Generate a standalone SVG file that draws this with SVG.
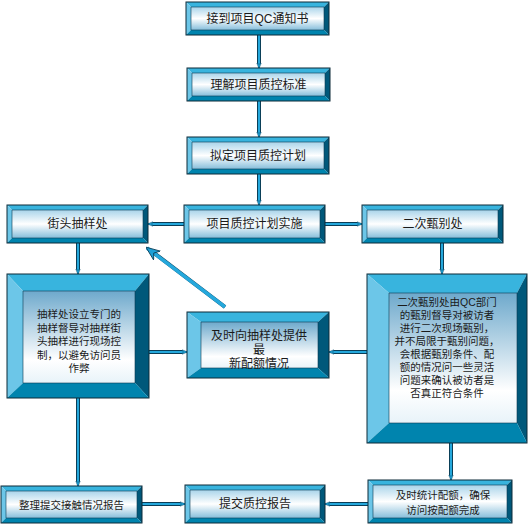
<svg xmlns="http://www.w3.org/2000/svg" width="530" height="525" viewBox="0 0 530 525">
<defs>
<linearGradient id="gs" x1="0" y1="0" x2="0" y2="1">
<stop offset="0" stop-color="#a9d4ea"/>
<stop offset="0.5" stop-color="#ffffff"/>
<stop offset="1" stop-color="#86bedb"/>
</linearGradient>
<linearGradient id="gb" x1="0" y1="0" x2="0" y2="1">
<stop offset="0" stop-color="#6ea9cc"/>
<stop offset="0.75" stop-color="#ffffff"/>
<stop offset="1" stop-color="#e8f3f9"/>
</linearGradient>
<marker id="ah" viewBox="0 0 10 10" refX="9" refY="5" markerWidth="3" markerHeight="3" orient="auto" markerUnits="strokeWidth">
<path d="M0,1 L10,5 L0,9 L3,5 Z" fill="#1ea0d6" stroke="#0a3f58" stroke-width="0.8"/>
</marker>
<marker id="ahb" viewBox="0 0 10 10" refX="9" refY="5" markerWidth="4" markerHeight="4" orient="auto" markerUnits="strokeWidth">
<path d="M0,1 L10,5 L0,9 L3,5 Z" fill="#1ea0d6" stroke="#0a3f58" stroke-width="0.6"/>
</marker>
</defs>
<style>
.bt{fill:#38b4de}
.bl{fill:#6cc6e8}
.br{fill:#00587a}
.bb{fill:#0084ae}
.o{fill:none;stroke:#0d2a38;stroke-width:1}
.in{stroke:#0d3a50;stroke-width:0.6}
text{font-family:"Liberation Sans","Noto Sans CJK SC",sans-serif;fill:#1a1a1a;text-anchor:middle}
.s{font-size:12px}
.m{font-size:10.5px}
.c1{fill:none;stroke:#0a3f58;stroke-width:4}
.c2{fill:none;stroke:#25a8dc;stroke-width:2}
</style>

<g id="connectors">
<g class="c1">
<path d="M259,35 V64"/><path d="M259,101 V133"/><path d="M259,174 V201"/>
<path d="M184,224 H152"/><path d="M325,224 H358"/>
<path d="M78,243 V270"/><path d="M442,243 V270"/>
<path d="M149,352 H183"/><path d="M367,352 H333"/>
<path d="M225,307 L154,253"/>
<path d="M78,398 V482"/><path d="M451,443 V476"/>
<path d="M142,504 H181"/><path d="M368,504 H329"/>
</g>
<g class="c2">
<path d="M259,35 V68" marker-end="url(#ah)"/><path d="M259,101 V137" marker-end="url(#ah)"/><path d="M259,174 V205" marker-end="url(#ah)"/>
<path d="M184,224 H148" marker-end="url(#ah)"/><path d="M325,224 H362" marker-end="url(#ah)"/>
<path d="M78,243 V274" marker-end="url(#ah)"/><path d="M442,243 V274" marker-end="url(#ah)"/>
<path d="M149,352 H187" marker-end="url(#ah)"/><path d="M367,352 H329" marker-end="url(#ah)"/>
<path d="M225,307 L147,248" marker-end="url(#ahb)" stroke-width="3.5"/>
<path d="M78,398 V486" marker-end="url(#ah)"/><path d="M451,443 V480" marker-end="url(#ah)"/>
<path d="M142,504 H185" marker-end="url(#ah)"/><path d="M368,504 H325" marker-end="url(#ah)"/>
</g>
</g>

<g id="n1">
<polygon class="bt" points="186,2 329,2 324,7 191,7"/><polygon class="bl" points="186,2 191,7 191,30 186,35"/><polygon class="br" points="329,2 329,35 324,30 324,7"/><polygon class="bb" points="186,35 191,30 324,30 329,35"/>
<rect x="191" y="7" width="133" height="23" fill="url(#gs)" class="in"/><rect x="186" y="2" width="143" height="33" class="o"/>
<text class="s" x="257.5" y="22.5">接到项目QC通知书</text>
</g>
<g id="n2">
<polygon class="bt" points="187,68 330,68 325,73 192,73"/><polygon class="bl" points="187,68 192,73 192,96 187,101"/><polygon class="br" points="330,68 330,101 325,96 325,73"/><polygon class="bb" points="187,101 192,96 325,96 330,101"/>
<rect x="192" y="73" width="133" height="23" fill="url(#gs)" class="in"/><rect x="187" y="68" width="143" height="33" class="o"/>
<text class="s" x="258.5" y="88.5">理解项目质控标准</text>
</g>
<g id="n3">
<polygon class="bt" points="187,137 329,137 324,142 192,142"/><polygon class="bl" points="187,137 192,142 192,169 187,174"/><polygon class="br" points="329,137 329,174 324,169 324,142"/><polygon class="bb" points="187,174 192,169 324,169 329,174"/>
<rect x="192" y="142" width="132" height="27" fill="url(#gs)" class="in"/><rect x="187" y="137" width="142" height="37" class="o"/>
<text class="s" x="258" y="159.5">拟定项目质控计划</text>
</g>
<g id="n4">
<polygon class="bt" points="7,205 148,205 143,210 12,210"/><polygon class="bl" points="7,205 12,210 12,238 7,243"/><polygon class="br" points="148,205 148,243 143,238 143,210"/><polygon class="bb" points="7,243 12,238 143,238 148,243"/>
<rect x="12" y="210" width="131" height="28" fill="url(#gs)" class="in"/><rect x="7" y="205" width="141" height="38" class="o"/>
<text class="s" x="77.5" y="228">街头抽样处</text>
</g>
<g id="n5">
<polygon class="bt" points="184,205 325,205 320,210 189,210"/><polygon class="bl" points="184,205 189,210 189,238 184,243"/><polygon class="br" points="325,205 325,243 320,238 320,210"/><polygon class="bb" points="184,243 189,238 320,238 325,243"/>
<rect x="189" y="210" width="131" height="28" fill="url(#gs)" class="in"/><rect x="184" y="205" width="141" height="38" class="o"/>
<text class="s" x="254.5" y="228">项目质控计划实施</text>
</g>
<g id="n6">
<polygon class="bt" points="362,205 503,205 498,210 367,210"/><polygon class="bl" points="362,205 367,210 367,238 362,243"/><polygon class="br" points="503,205 503,243 498,238 498,210"/><polygon class="bb" points="362,243 367,238 498,238 503,243"/>
<rect x="367" y="210" width="131" height="28" fill="url(#gs)" class="in"/><rect x="362" y="205" width="141" height="38" class="o"/>
<text class="s" x="432.5" y="228">二次甄别处</text>
</g>
<g id="n7">
<polygon class="bt" points="7,274 149,274 135,291 23,291"/><polygon class="bl" points="7,274 23,291 23,383 7,398"/><polygon class="br" points="149,274 149,398 135,383 135,291"/><polygon class="bb" points="7,398 23,383 135,383 149,398"/>
<rect x="23" y="291" width="112" height="92" fill="url(#gb)" class="in"/><rect x="7" y="274" width="142" height="124" class="o"/>
<text class="m"><tspan x="79" y="318">抽样处设立专门的</tspan><tspan x="79" dy="13.5">抽样督导对抽样街</tspan><tspan x="79" dy="13.5">头抽样进行现场控</tspan><tspan x="79" dy="13.5">制，以避免访问员</tspan><tspan x="79" dy="13.5">作弊</tspan></text>
</g>
<g id="n8">
<polygon class="bt" points="187,312 329,312 318,322 201,322"/><polygon class="bl" points="187,312 201,322 201,368 187,378"/><polygon class="br" points="329,312 329,378 318,368 318,322"/><polygon class="bb" points="187,378 201,368 318,368 329,378"/>
<rect x="201" y="322" width="117" height="46" fill="url(#gb)" class="in"/><rect x="187" y="312" width="142" height="66" class="o"/>
<text style="font-size:12px"><tspan x="259" y="339.5">及时向抽样处提供</tspan><tspan x="259" dy="14.5">最</tspan><tspan x="259" dy="14">新配额情况</tspan></text>
</g>
<g id="n9">
<polygon class="bt" points="367,274 527,274 517,293 389,293"/><polygon class="bl" points="367,274 389,293 389,423 367,443"/><polygon class="br" points="527,274 527,443 517,423 517,293"/><polygon class="bb" points="367,443 389,423 517,423 527,443"/>
<rect x="389" y="293" width="128" height="130" fill="url(#gb)" class="in"/><rect x="367" y="274" width="160" height="169" class="o"/>
<text class="m"><tspan x="447" y="306">二次甄别处由QC部门</tspan><tspan x="447" dy="13">的甄别督导对被访者</tspan><tspan x="447" dy="13">进行二次现场甄别，</tspan><tspan x="447" dy="13">并不局限于甄别问题，</tspan><tspan x="447" dy="13">会根据甄别条件、配</tspan><tspan x="447" dy="13">额的情况问一些灵活</tspan><tspan x="447" dy="13">问题来确认被访者是</tspan><tspan x="447" dy="13">否真正符合条件</tspan></text>
</g>
<g id="n10">
<polygon class="bt" points="1,486 142,486 137,491 6,491"/><polygon class="bl" points="1,486 6,491 6,518 1,523"/><polygon class="br" points="142,486 142,523 137,518 137,491"/><polygon class="bb" points="1,523 6,518 137,518 142,523"/>
<rect x="6" y="491" width="131" height="27" fill="url(#gs)" class="in"/><rect x="1" y="486" width="141" height="37" class="o"/>
<text class="m" x="71.5" y="508.5">整理提交接触情况报告</text>
</g>
<g id="n11">
<polygon class="bt" points="185,485 325,485 320,490 190,490"/><polygon class="bl" points="185,485 190,490 190,518 185,523"/><polygon class="br" points="325,485 325,523 320,518 320,490"/><polygon class="bb" points="185,523 190,518 320,518 325,523"/>
<rect x="190" y="490" width="130" height="28" fill="url(#gs)" class="in"/><rect x="185" y="485" width="140" height="38" class="o"/>
<text class="s" x="255" y="508">提交质控报告</text>
</g>
<g id="n12">
<polygon class="bt" points="368,480 512,480 507,485 373,485"/><polygon class="bl" points="368,480 373,485 373,518 368,523"/><polygon class="br" points="512,480 512,523 507,518 507,485"/><polygon class="bb" points="368,523 373,518 507,518 512,523"/>
<rect x="373" y="485" width="134" height="33" fill="url(#gs)" class="in"/><rect x="368" y="480" width="144" height="43" class="o"/>
<text class="m"><tspan x="443" y="499">及时统计配额，确保</tspan><tspan x="443" dy="15">访问按配额完成</tspan></text>
</g>
</svg>
